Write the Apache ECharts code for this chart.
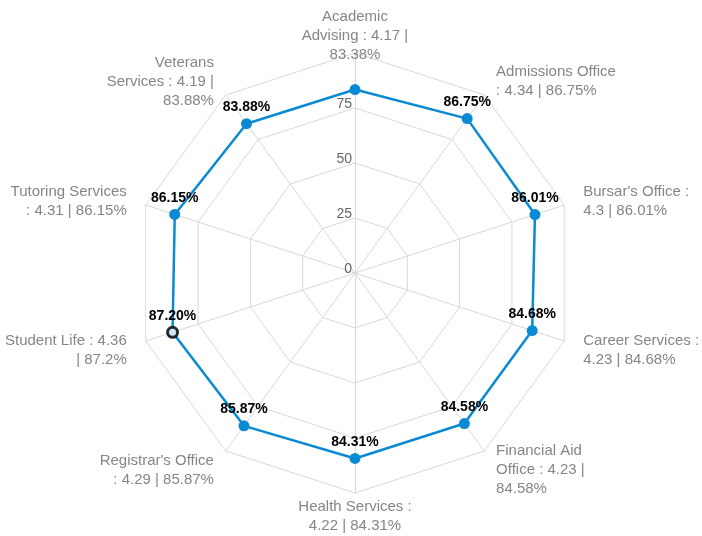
<!DOCTYPE html>
<html>
<head>
<meta charset="utf-8">
<script src="https://cdn.jsdelivr.net/npm/echarts@6/dist/echarts.min.js"></script>
<style>html,body{margin:0;padding:0;background:#fff;}#c{width:702px;height:536px;}</style>
</head>
<body>
<div id="c"></div>
<script>
// Categories in clockwise order starting from the top
var categories = ["Academic Advising", "Admissions Office", "Bursar's Office", "Career Services", "Financial Aid Office", "Health Services", "Registrar's Office", "Student Life", "Tutoring Services", "Veterans Services"];
var scores = [4.17, 4.34, 4.3, 4.23, 4.23, 4.22, 4.29, 4.36, 4.31, 4.19];
var percents = [83.38, 86.75, 86.01, 84.68, 84.58, 84.31, 85.87, 87.2, 86.15, 83.88];
var tickLabels = [0, 25, 50, 75];
var axisMax = 100;
var highlightedCategory = "Student Life";
var unlabeledCategory = "Academic Advising";
// Axis names as displayed (wrapped)
var axisNames = [
  "Academic\nAdvising : 4.17 |\n83.38%",
  "Admissions Office\n: 4.34 | 86.75%",
  "Bursar's Office :\n4.3 | 86.01%",
  "Career Services :\n4.23 | 84.68%",
  "Financial Aid\nOffice : 4.23 |\n84.58%",
  "Health Services :\n4.22 | 84.31%",
  "Registrar's Office\n: 4.29 | 85.87%",
  "Student Life : 4.36\n| 87.2%",
  "Tutoring Services\n: 4.31 | 86.15%",
  "Veterans\nServices : 4.19 |\n83.88%"
];

var FONT = "'Liberation Sans', Arial, sans-serif";
var CENTER = [355, 273];
var RADIUS = 220;
var n = categories.length;
var step = 360 / n;

// ECharts radar goes counter-clockwise; reverse all but the first to draw clockwise
function toRadarOrder(arr) { return [arr[0]].concat(arr.slice(1).reverse()); }

var indicators = toRadarOrder(categories).map(function (c, i) {
  var ind = { name: c, max: axisMax, min: 0 };
  if (i === 0) {
    ind.axisLabel = {
      show: true, color: '#666', fontSize: 14, fontFamily: FONT,
      verticalAlign: 'bottom', margin: 3, padding: [0, 0, -3, 0],
      formatter: function (v) { return tickLabels.indexOf(v) >= 0 ? String(v) : ''; }
    };
  }
  return ind;
});

// Axis name labels placed in an overlay polar system matching the radar
var nameData = categories.map(function (c, i) {
  var ang = i * step; // clockwise from top
  var rad = (90 - ang) * Math.PI / 180;
  var cx = Math.cos(rad), cy = -Math.sin(rad);
  var gap = 20;
  var align = Math.abs(cx) < 0.01 ? 'center' : (cx > 0 ? 'left' : 'right');
  return {
    value: [axisMax, ang],
    label: { align: align, offset: [cx * gap, cy * gap + 3] }
  };
});

var hiIdx = categories.indexOf(highlightedCategory);
var skipVal = percents[categories.indexOf(unlabeledCategory)];

var chart = echarts.init(document.getElementById('c'), null, { renderer: 'canvas' });
chart.setOption({
  animation: false,
  backgroundColor: '#fff',
  textStyle: { fontFamily: FONT },
  radar: {
    center: CENTER,
    radius: RADIUS,
    startAngle: 90,
    shape: 'polygon',
    splitNumber: 4,
    indicator: indicators,
    axisName: { show: false },
    axisLine: { lineStyle: { color: '#d9d9d9', width: 1 } },
    splitLine: { lineStyle: { color: '#d9d9d9', width: 1 } },
    splitArea: { show: false },
    axisLabel: { show: false },
    axisTick: { show: false }
  },
  polar: { center: CENTER, radius: RADIUS },
  angleAxis: { type: 'value', min: 0, max: 360, startAngle: 90, clockwise: true, show: false },
  radiusAxis: { type: 'value', min: 0, max: axisMax, show: false },
  series: [
    {
      type: 'radar',
      symbol: 'circle',
      symbolSize: 11,
      lineStyle: { color: '#0a8ad2', width: 2.5 },
      itemStyle: { color: '#0a8ad2' },
      label: {
        show: true, position: 'top', distance: 4,
        color: '#000', fontWeight: 'bold', fontSize: 14, fontFamily: FONT,
        formatter: function (p) { return Number(p.value) === skipVal ? '' : Number(p.value).toFixed(2) + '%'; }
      },
      data: [{ value: toRadarOrder(percents), name: 'Satisfaction' }]
    },
    {
      type: 'scatter',
      coordinateSystem: 'polar',
      silent: true,
      z: 5,
      symbol: 'circle',
      symbolSize: 10,
      itemStyle: { color: '#fff', borderColor: '#000', borderWidth: 3 },
      data: [[percents[hiIdx], hiIdx * step]]
    },
    {
      type: 'scatter',
      coordinateSystem: 'polar',
      silent: true,
      symbolSize: 0.01,
      itemStyle: { color: 'rgba(0,0,0,0)' },
      label: {
        show: true, position: 'inside', verticalAlign: 'middle',
        color: '#666', fontSize: 15, lineHeight: 19, fontFamily: FONT,
        formatter: function (p) { return axisNames[p.dataIndex]; }
      },
      data: nameData
    }
  ]
});
</script>
</body>
</html>
